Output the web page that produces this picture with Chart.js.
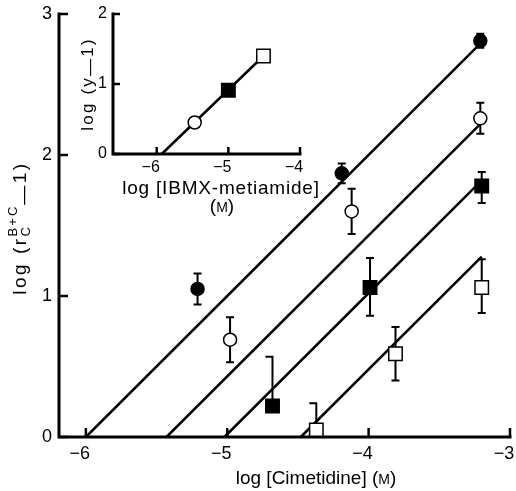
<!DOCTYPE html>
<html>
<head>
<meta charset="utf-8">
<script src="https://cdn.jsdelivr.net/npm/chart.js@4.4.0/dist/chart.umd.min.js"></script>
<style>
  html, body { margin: 0; padding: 0; background: #fff; }
  #wrap { position: relative; width: 516px; height: 491px; }
  #main, #inset { position: absolute; left: 0; top: 0; }
</style>
</head>
<body>
<div id="wrap">
  <canvas id="main" width="516" height="491"></canvas>
  <canvas id="inset" width="330" height="220"></canvas>
</div>
<script>
// ---- values ----
const xTicks = [-6, -5, -4, -3];
const yTicks = [0, 1, 2, 3];

// fitted parallel lines, one per IBMX-metiamide concentration
const lineX = [[-6.0, -3.2], [-5.43, -3.2], [-5.02, -3.2], [-4.48, -3.2]];
const lineY = [[0, 2.8], [0, 2.23], [0, 1.82], [0, 1.28]];

const filledCircleX = [-5.21, -4.19, -3.21];
const filledCircleY = [1.05, 1.87, 2.81];
const filledCircleUp = [0.11, 0.07, 0.05];
const filledCircleDown = [0.11, 0.07, 0.05];

const openCircleX = [-4.98, -4.12, -3.21];
const openCircleY = [0.69, 1.60, 2.26];
const openCircleUp = [0.16, 0.16, 0.11];
const openCircleDown = [0.16, 0.16, 0.11];

const filledSquareX = [-4.68, -3.99, -3.2];
const filledSquareY = [0.22, 1.06, 1.78];
const filledSquareUp = [0.35, 0.21, 0.10];
const filledSquareDown = [0, 0.20, 0.12];

const openSquareX = [-4.37, -3.81, -3.2];
const openSquareY = [0.05, 0.59, 1.06];
const openSquareUp = [0.19, 0.19, 0.20];
const openSquareDown = [0, 0.19, 0.18];

// inset: log(y-1) against log [IBMX-metiamide]
const insetXTicks = [-6, -5, -4];
const insetYTicks = [0, 1, 2];
const insetLineX = [-5.93, -4.51];
const insetLineY = [0, 1.40];
const insetPointX = [-5.47, -5.0, -4.51];
const insetPointY = [0.45, 0.91, 1.40];

const fontFamily = '"Liberation Sans", Arial, Helvetica, sans-serif';

function pts(xs, ys) {
  return xs.map((x, i) => ({ x: x, y: ys[i] }));
}

function minusLabel(v) {
  return (v < 0 ? '\u2212' : '') + Math.abs(v);
}

// draw a run of text pieces (with sub/superscripts) centred on cx, baseline at cy
function richText(ctx, parts, cx, cy, rot) {
  ctx.save();
  ctx.translate(cx, cy);
  ctx.rotate(rot || 0);
  ctx.fillStyle = '#000';
  ctx.textAlign = 'left';
  ctx.textBaseline = 'alphabetic';
  const setFont = p => {
    ctx.font = p.size + 'px ' + fontFamily;
    ctx.letterSpacing = (p.ls || 0) + 'px';
  };
  let total = 0;
  parts.forEach(p => {
    setFont(p);
    p.w = ctx.measureText(p.text).width;
    if (p.advance !== false) total += p.w;
  });
  let x = -total / 2;
  parts.forEach(p => {
    setFont(p);
    ctx.fillText(p.text, x, p.dy || 0);
    if (p.advance !== false) x += p.w;
  });
  ctx.restore();
}

// error bars, drawn under the markers
const errorBars = {
  id: 'errorBars',
  beforeDatasetsDraw(chart) {
    const ctx = chart.ctx;
    const y = chart.scales.y;
    ctx.save();
    ctx.strokeStyle = '#000';
    ctx.lineWidth = 2;
    chart.data.datasets.forEach((ds, i) => {
      if (!ds.errUp) return;
      const meta = chart.getDatasetMeta(i);
      meta.data.forEach((pt, j) => {
        const v = ds.data[j].y;
        const top = y.getPixelForValue(v + ds.errUp[j]);
        const bot = y.getPixelForValue(v - ds.errDown[j]);
        ctx.beginPath();
        ctx.moveTo(pt.x, top);
        ctx.lineTo(pt.x, bot);
        if (ds.errDown[j] === 0) {
          // only the upper half was drawn, cap turned to the left
          ctx.moveTo(pt.x - 7, top);
          ctx.lineTo(pt.x + 1, top);
        } else {
          ctx.moveTo(pt.x - 4, top);
          ctx.lineTo(pt.x + 4, top);
          ctx.moveTo(pt.x - 4, bot);
          ctx.lineTo(pt.x + 4, bot);
        }
        ctx.stroke();
      });
    });
    ctx.restore();
  }
};

// axis lines plus tick marks pointing into the plot
const axesInward = {
  id: 'axesInward',
  afterDatasetsDraw(chart, args, opts) {
    const { ctx, scales } = chart;
    const len = (opts && opts.len) || 8;
    const x0 = scales.x.getPixelForValue(scales.x.min);
    const x1 = scales.x.getPixelForValue(scales.x.max);
    const y0 = scales.y.getPixelForValue(scales.y.min);
    const y1 = scales.y.getPixelForValue(scales.y.max);
    ctx.save();
    ctx.strokeStyle = '#000';
    ctx.lineCap = 'butt';
    ctx.lineWidth = 3;
    ctx.beginPath();
    ctx.moveTo(x0, y1 - 1.5);
    ctx.lineTo(x0, y0);
    ctx.lineTo(x1 + 1.5, y0);
    ctx.stroke();
    ctx.lineWidth = 2.5;
    ctx.beginPath();
    scales.x.ticks.forEach(t => {
      const px = scales.x.getPixelForValue(t.value);
      ctx.moveTo(px, y0);
      ctx.lineTo(px, y0 - len);
    });
    scales.y.ticks.forEach(t => {
      const py = scales.y.getPixelForValue(t.value);
      ctx.moveTo(x0, py);
      ctx.lineTo(x0 + len, py);
    });
    ctx.stroke();
    ctx.restore();
  }
};

// fixed axis box sizes, and no extra room for edge labels
function axis(min, max, tickVals, size, tickOpts) {
  return {
    type: 'linear',
    min: min,
    max: max,
    afterBuildTicks: s => { s.ticks = tickVals.map(v => ({ value: v })); },
    afterFit: s => {
      if (s.isHorizontal()) s.height = size; else s.width = size;
      s.paddingLeft = s.paddingRight = s.paddingTop = s.paddingBottom = 0;
    },
    grid: { display: false, drawTicks: false },
    border: { display: false },
    ticks: Object.assign({
      color: '#000',
      callback: minusLabel,
      font: { family: fontFamily, size: 18 }
    }, tickOpts)
  };
}

// ---- main chart ----
const mainTitles = {
  id: 'mainTitles',
  afterDraw(chart) {
    const ctx = chart.ctx;
    richText(ctx, [
      { text: 'log [Cimetidine] (', size: 19 },
      { text: 'M', size: 14 },
      { text: ')', size: 19 }
    ], 316, 484, 0);
    richText(ctx, [
      { text: 'log (r', size: 19, ls: 2.5 },
      { text: 'C', size: 13, dy: 4, advance: false },
      { text: 'B+C', size: 13, dy: -9, ls: 2 },
      { text: '\u2014', size: 19, dy: 3, ls: 2.5 },
      { text: '1)', size: 19, ls: 2.5 }
    ], 26, 228, -Math.PI / 2);
  }
};

new Chart(document.getElementById('main'), {
  type: 'scatter',
  data: {
    datasets: [
      { data: pts(filledCircleX, filledCircleY), errUp: filledCircleUp, errDown: filledCircleDown,
        pointStyle: 'circle', pointRadius: 6.5, backgroundColor: '#000', borderColor: '#000', borderWidth: 1.5 },
      { data: pts(openCircleX, openCircleY), errUp: openCircleUp, errDown: openCircleDown,
        pointStyle: 'circle', pointRadius: 6.5, backgroundColor: '#fff', borderColor: '#000', borderWidth: 1.5 },
      { data: pts(filledSquareX, filledSquareY), errUp: filledSquareUp, errDown: filledSquareDown,
        pointStyle: 'rect', pointRadius: 9.5, backgroundColor: '#000', borderColor: '#000', borderWidth: 1.5 },
      { data: pts(openSquareX, openSquareY), errUp: openSquareUp, errDown: openSquareDown,
        pointStyle: 'rect', pointRadius: 9.5, backgroundColor: '#fff', borderColor: '#000', borderWidth: 1.5 }
    ].concat(lineX.map((xs, i) => ({
      data: pts(xs, lineY[i]), showLine: true, pointRadius: 0,
      borderColor: '#000', borderWidth: 2.5
    }))).map(ds => Object.assign(ds, { clip: false }))
  },
  options: {
    responsive: false,
    animation: false,
    events: [],
    layout: { autoPadding: false, padding: { left: 0, right: 6, top: 14, bottom: 0 } },
    scales: {
      x: axis(-6.19, -3, xTicks, 54, { padding: 6, labelOffset: -6 }),
      y: axis(0, 3, yTicks, 59, { padding: 7 })
    },
    plugins: {
      legend: { display: false },
      tooltip: { enabled: false },
      axesInward: { len: 9 }
    }
  },
  plugins: [errorBars, axesInward, mainTitles]
});

// ---- inset ----
const insetTitles = {
  id: 'insetTitles',
  afterDraw(chart) {
    const ctx = chart.ctx;
    richText(ctx, [{ text: 'log [IBMX-metiamide]', size: 19, ls: 0.8 }], 221, 194, 0);
    richText(ctx, [
      { text: '(', size: 19 },
      { text: 'M', size: 14 },
      { text: ')', size: 19 }
    ], 222, 212, 0);
    richText(ctx, [
      { text: 'log (y', size: 17, ls: 2.2 },
      { text: '\u2014', size: 17, dy: 2, ls: 2.2 },
      { text: '1)', size: 17, ls: 2.2 }
    ], 93, 84, -Math.PI / 2);
  }
};

new Chart(document.getElementById('inset'), {
  type: 'scatter',
  data: {
    datasets: [
      { data: pts(insetPointX, insetPointY),
        pointStyle: ['circle', 'rect', 'rect'],
        pointRadius: [6.5, 9.5, 9.5],
        backgroundColor: ['#fff', '#000', '#fff'],
        borderColor: '#000', borderWidth: 1.5, clip: false },
      { data: pts(insetLineX, insetLineY), showLine: true, pointRadius: 0,
        borderColor: '#000', borderWidth: 2.5, clip: false }
    ]
  },
  options: {
    responsive: false,
    animation: false,
    events: [],
    layout: { autoPadding: false, padding: { left: 0, right: 30, top: 14, bottom: 0 } },
    scales: {
      x: axis(-6.61, -4, insetXTicks, 66, { padding: 4, labelOffset: -6, font: { family: fontFamily, size: 16 } }),
      y: axis(0, 2, insetYTicks, 113, { padding: 6, font: { family: fontFamily, size: 16 } })
    },
    plugins: {
      legend: { display: false },
      tooltip: { enabled: false },
      axesInward: { len: 7 }
    }
  },
  plugins: [axesInward, insetTitles]
});
</script>
</body>
</html>
